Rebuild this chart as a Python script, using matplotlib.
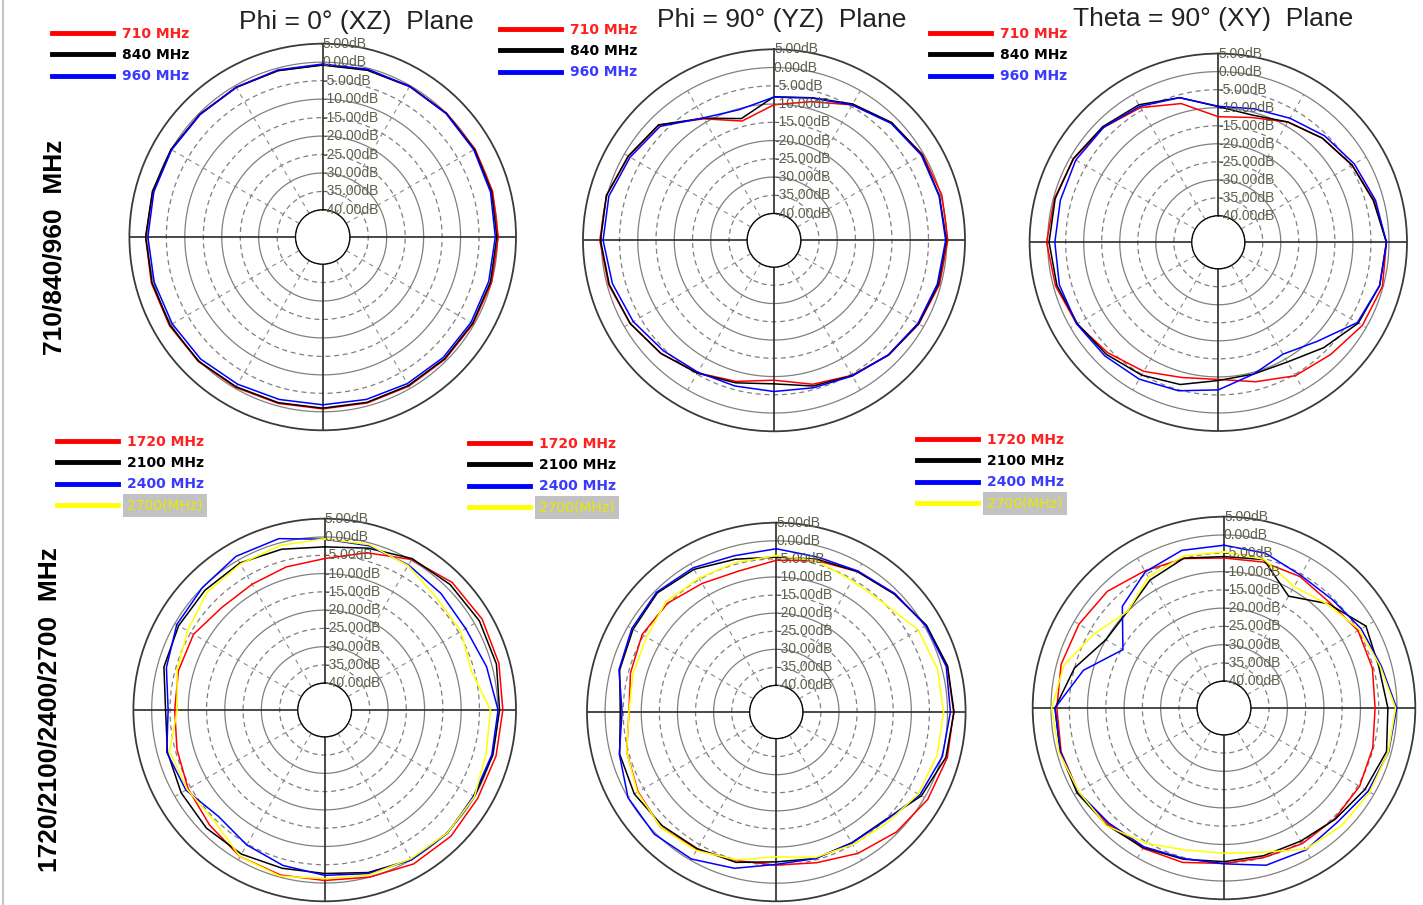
import numpy as np
import matplotlib
matplotlib.use('Agg')
import matplotlib.pyplot as plt
from matplotlib.lines import Line2D

W, H = 1423, 905

# hoeken in graden (0 = boven, met de klok mee)
hoek = np.arange(0, 360, 15)

# ---- rij 1: 710 / 840 / 960 MHz (dB) ----
tl_710 = [-0.7, -0.5, -0.2, 0.1, 0.3, 0.3, 0.2, 0.0, -0.3, -0.5, -0.7, -0.8,
          -0.8, -0.7, -0.3, 0.3, 0.6, 0.7, 0.6, 0.3, 0.0, -0.4, -0.6, -0.7]
tl_840 = [-0.8, -0.6, -0.3, 0.0, 0.1, 0.0, -0.2, -0.3, -0.5, -0.7, -0.9, -1.0,
          -1.0, -0.9, -0.5, 0.2, 0.4, 0.5, 0.6, 0.4, 0.1, -0.3, -0.5, -0.7]
tl_960 = [-0.5, -0.3, -0.2, -0.1, -0.1, -0.3, -0.6, -0.8, -1.0, -1.2, -1.5, -1.8,
          -1.9, -1.8, -1.3, -0.6, -0.3, -0.1, 0.0, 0.0, -0.1, -0.4, -0.5, -0.5]

tm_710 = [-10.2, -8.0, -4.5, -1.9, -0.3, 0.3, 0.3, -0.4, -1.5, -2.9, -4.6, -6.5,
          -9.0, -7.3, -5.4, -3.5, -1.8, -0.4, 0.4, 0.2, -1.3, -2.7, -8.9, -13.5]
tm_840 = [-8.0, -6.9, -4.2, -1.7, -0.5, -0.4, -0.1, -0.7, -1.6, -2.9, -4.5, -6.0,
          -8.0, -6.9, -5.3, -3.5, -1.8, -0.6, 0.2, 0.2, -1.2, -2.6, -8.7, -12.8]
tm_960 = [-8.1, -7.0, -4.5, -2.0, -0.7, -0.5, -0.3, -1.0, -1.8, -3.0, -4.4, -5.5,
          -5.9, -6.0, -5.6, -4.5, -2.8, -1.5, -0.5, -0.5, -1.8, -3.2, -8.6, -10.3]

tr_710 = [-12.5, -11.5, -8.8, -6.5, -4.5, -2.6, -0.7, -0.2, -1.2, -3.3, -4.6, -7.3,
          -9.3, -8.5, -6.0, -4.0, -2.0, -0.6, 0.3, -0.3, -1.0, -2.3, -4.2, -7.5]
tr_840 = [-9.7, -10.8, -8.8, -6.5, -4.5, -2.8, -0.7, -1.0, -2.5, -6.0, -9.0, -9.5,
          -9.0, -6.5, -4.8, -3.4, -2.2, -1.0, -0.4, -0.5, -0.9, -2.0, -3.3, -5.8]
tr_960 = [-9.6, -9.0, -7.6, -5.6, -3.8, -2.2, -0.7, -1.0, -2.8, -8.5, -11.5, -9.5,
          -6.4, -4.7, -3.5, -2.8, -2.0, -1.7, -2.0, -2.0, -1.7, -2.3, -3.8, -5.8]

# ---- rij 2: 1720 / 2100 / 2400 / 2700 MHz (dB) ----
bl_1720 = [-5.9, -2.8, 0.2, 2.0, 2.4, 2.0, 1.4, 1.2, 1.0, 1.5, 1.3, 0.0,
           -0.7, -0.6, -1.0, -2.8, -4.2, -5.5, -6.3, -5.9, -5.9, -7.6, -7.6, -6.8]
bl_2100 = [-2.7, -1.5, 0.5, 1.2, 1.5, 1.3, 0.5, 0.3, 0.0, 0.2, 0.0, -1.3,
           -2.6, -2.5, -1.8, -1.6, -2.0, -2.8, -3.8, -1.8, -1.2, -1.0, -0.9, -1.8]
bl_2400 = [-0.6, -0.8, -1.5, -2.3, -2.8, -1.5, 0.1, 0.0, -0.3, 0.3, 0.0, -1.0,
           -2.1, -3.3, -4.7, -6.2, -3.5, -2.6, -4.5, -2.5, -0.6, 0.0, 1.2, 1.2]
bl_2700 = [-0.5, -0.5, -1.7, -4.0, -4.3, -5.8, -2.0, -1.6, 0.0, 0.2, -0.3, -0.6,
           -1.2, -0.3, -1.0, -4.5, -3.9, -3.4, -7.0, -5.5, -4.0, -1.8, -1.2, -0.7]

bm_1720 = [-5.4, -4.0, -2.5, -1.2, 0.5, 1.6, 1.7, 1.6, 1.0, -0.4, -2.2, -4.2,
           -5.0, -4.8, -3.5, -2.2, -3.2, -4.5, -6.6, -5.6, -4.5, -4.8, -6.3, -7.0]
bm_2100 = [-4.5, -3.6, -2.5, -1.2, 0.6, 1.7, 1.8, 1.2, -1.0, -5.0, -5.6, -5.4,
           -5.9, -4.3, -3.7, -2.8, -2.0, -2.5, -4.2, -2.5, -1.6, -0.8, -1.8, -3.6]
bm_2400 = [-2.2, -3.0, -2.3, -1.0, 0.4, 1.3, 0.8, 0.2, -1.5, -4.8, -5.5, -5.4,
           -5.2, -2.6, -0.4, 0.4, 0.0, -2.4, -4.7, -2.3, -1.2, -0.5, -1.3, -2.6]
bm_2700 = [-4.1, -4.0, -5.4, -5.0, -2.0, -1.2, -1.1, -1.3, -2.0, -4.0, -5.0, -5.7,
           -7.3, -5.0, -3.1, -2.2, -3.0, -4.5, -6.6, -6.3, -5.9, -4.2, -4.6, -4.5]

br_1720 = [-6.3, -6.0, -5.8, -6.5, -5.0, -5.3, -6.0, -5.2, -4.5, -4.5, -4.5, -5.0,
           -4.8, -3.6, -3.0, -2.5, -1.3, -1.2, -1.6, -1.2, -1.5, -2.2, -4.0, -5.0]
br_2100 = [-5.9, -5.3, -12.0, -7.0, -2.5, -3.5, -2.5, -1.3, -2.8, -4.3, -5.3, -5.5,
           -5.3, -4.5, -3.2, -2.0, -0.9, -0.9, -1.1, -5.0, -10.0, -10.0, -6.9, -4.9]
br_2400 = [-2.8, -3.5, -5.4, -5.4, -4.0, -2.8, -0.1, -0.7, -1.8, -3.3, -2.5, -2.8,
           -4.7, -4.7, -3.5, -2.8, -1.3, -1.0, -1.1, -7.5, -15.4, -8.0, -4.3, -2.7]
br_2700 = [-4.6, -5.2, -9.0, -7.2, -4.5, -3.1, -0.4, -0.8, -1.3, -1.8, -2.7, -6.5,
           -7.6, -7.1, -4.6, -1.8, -1.5, -0.6, -0.2, -2.0, -6.5, -10.0, -6.0, -4.3]

labels_laag = ['710 MHz', '840 MHz', '960 MHz']
labels_hoog = ['1720 MHz', '2100 MHz', '2400 MHz', '2700(MHz)']
kleuren = ['#ff0000', '#000000', '#0000ff', '#ffff00']
tekstkleuren = ['#ff2020', '#000000', '#3a3aff', '#e8e800']

titels = ['Phi = 0° (XZ)  Plane', 'Phi = 90° (YZ)  Plane', 'Theta = 90° (XY)  Plane']
rijlabels = ['710/840/960  MHz', '1720/2100/2400/2700  MHz']

ringen = [0, -5, -10, -15, -20, -25, -30, -35]

# (middelpunt x, y, straal) in pixels + linkerboven van de legenda
plots = [
    (322.7, 237.0, 193.3, [tl_710, tl_840, tl_960], labels_laag, (52, 27)),
    (774.0, 240.3, 191.0, [tm_710, tm_840, tm_960], labels_laag, (500, 23)),
    (1218.3, 242.3, 188.7, [tr_710, tr_840, tr_960], labels_laag, (930, 27)),
    (324.7, 710.0, 191.3, [bl_1720, bl_2100, bl_2400, bl_2700], labels_hoog, (57, 435)),
    (776.3, 712.0, 189.3, [bm_1720, bm_2100, bm_2400, bm_2700], labels_hoog, (469, 437)),
    (1224.0, 708.0, 191.3, [br_1720, br_2100, br_2400, br_2700], labels_hoog, (917, 433)),
]

fig = plt.figure(figsize=(W / 100, H / 100), dpi=100)

volledig = np.linspace(0, 2 * np.pi, 361)
th = np.deg2rad(hoek)
th_dicht = np.append(th, th[0])

for cx, cy, R, reeksen, labels, (lx, ly) in plots:
    ax = fig.add_axes([(cx - R) / W, 1 - (cy + R) / H, 2 * R / W, 2 * R / H],
                      projection='polar')
    ax.set_theta_zero_location('N')
    ax.set_theta_direction(-1)
    ax.set_rlim(-40, 5)
    ax.set_rorigin(-47.33)
    ax.set_xticks([])
    ax.set_yticks([])
    ax.grid(False)
    ax.spines['polar'].set_color('#3a3a3a')
    ax.spines['polar'].set_linewidth(1.3)

    # ringen
    for r in ringen:
        if r % 10 == 0:
            ax.plot(volledig, [r] * len(volledig), color='#808080', lw=0.9)
        else:
            ax.plot(volledig, [r] * len(volledig), color='#808080', lw=0.9,
                    dashes=(4, 3))
    ax.plot(volledig, [-40] * len(volledig), color='#3a3a3a', lw=1.2)

    # spaken
    for a in range(0, 360, 30):
        if a % 90 == 0:
            ax.plot([np.deg2rad(a)] * 2, [-40, 5], color='#2a2a2a', lw=1.2)
        else:
            ax.plot([np.deg2rad(a)] * 2, [-40, 0], color='#8a8a8a', lw=0.8,
                    dashes=(4, 4))

    # dB labels
    for r in [5] + ringen + [-40]:
        ax.text(0, r, f'{r:.2f}dB', fontsize=10, family='Liberation Sans',
                color='#5e5e4c', ha='left', va='center')

    # curves
    lijnen = []
    for vals, kl, lab in zip(reeksen, kleuren, labels):
        v = np.append(vals, vals[0])
        ln, = ax.plot(th_dicht, v, color=kl, lw=1.1, label=lab)
        lijnen.append(ln)

    leg = ax.legend(handles=lijnen, loc='upper left',
                    bbox_to_anchor=(lx / W, 1 - ly / H),
                    bbox_transform=fig.transFigure, frameon=False,
                    borderpad=0, borderaxespad=0, handlelength=4.4,
                    handletextpad=0.65, labelspacing=0.52,
                    prop=dict(weight='bold', size=10),
                    labelcolor=tekstkleuren[:len(lijnen)])
    for l in leg.get_lines():
        l.set_linewidth(3.5)
    if len(lijnen) == 4:
        t = leg.get_texts()[3]
        t.set_fontweight('normal')
        t.set_bbox(dict(facecolor='#c2c2c2', edgecolor='none', pad=3))

# titels
for x, y, t in zip([356, 782, 1213], [22, 20, 19], titels):
    fig.text(x / W, 1 - y / H, t, fontsize=19, family='Liberation Sans',
             color='#222222', ha='center', va='center')

fig.text(55 / W, 1 - 247 / H, rijlabels[0], rotation=90, fontsize=19,
         family='Liberation Sans', weight='bold', ha='center', va='center')
fig.text(50 / W, 1 - 710 / H, rijlabels[1], rotation=90, fontsize=19,
         family='Liberation Sans', weight='bold', ha='center', va='center')

fig.add_artist(Line2D([3 / W, 3 / W], [0, 1], color='#c4c4c4', lw=1.5,
                      transform=fig.transFigure))

fig.savefig('out.png', dpi=100)
